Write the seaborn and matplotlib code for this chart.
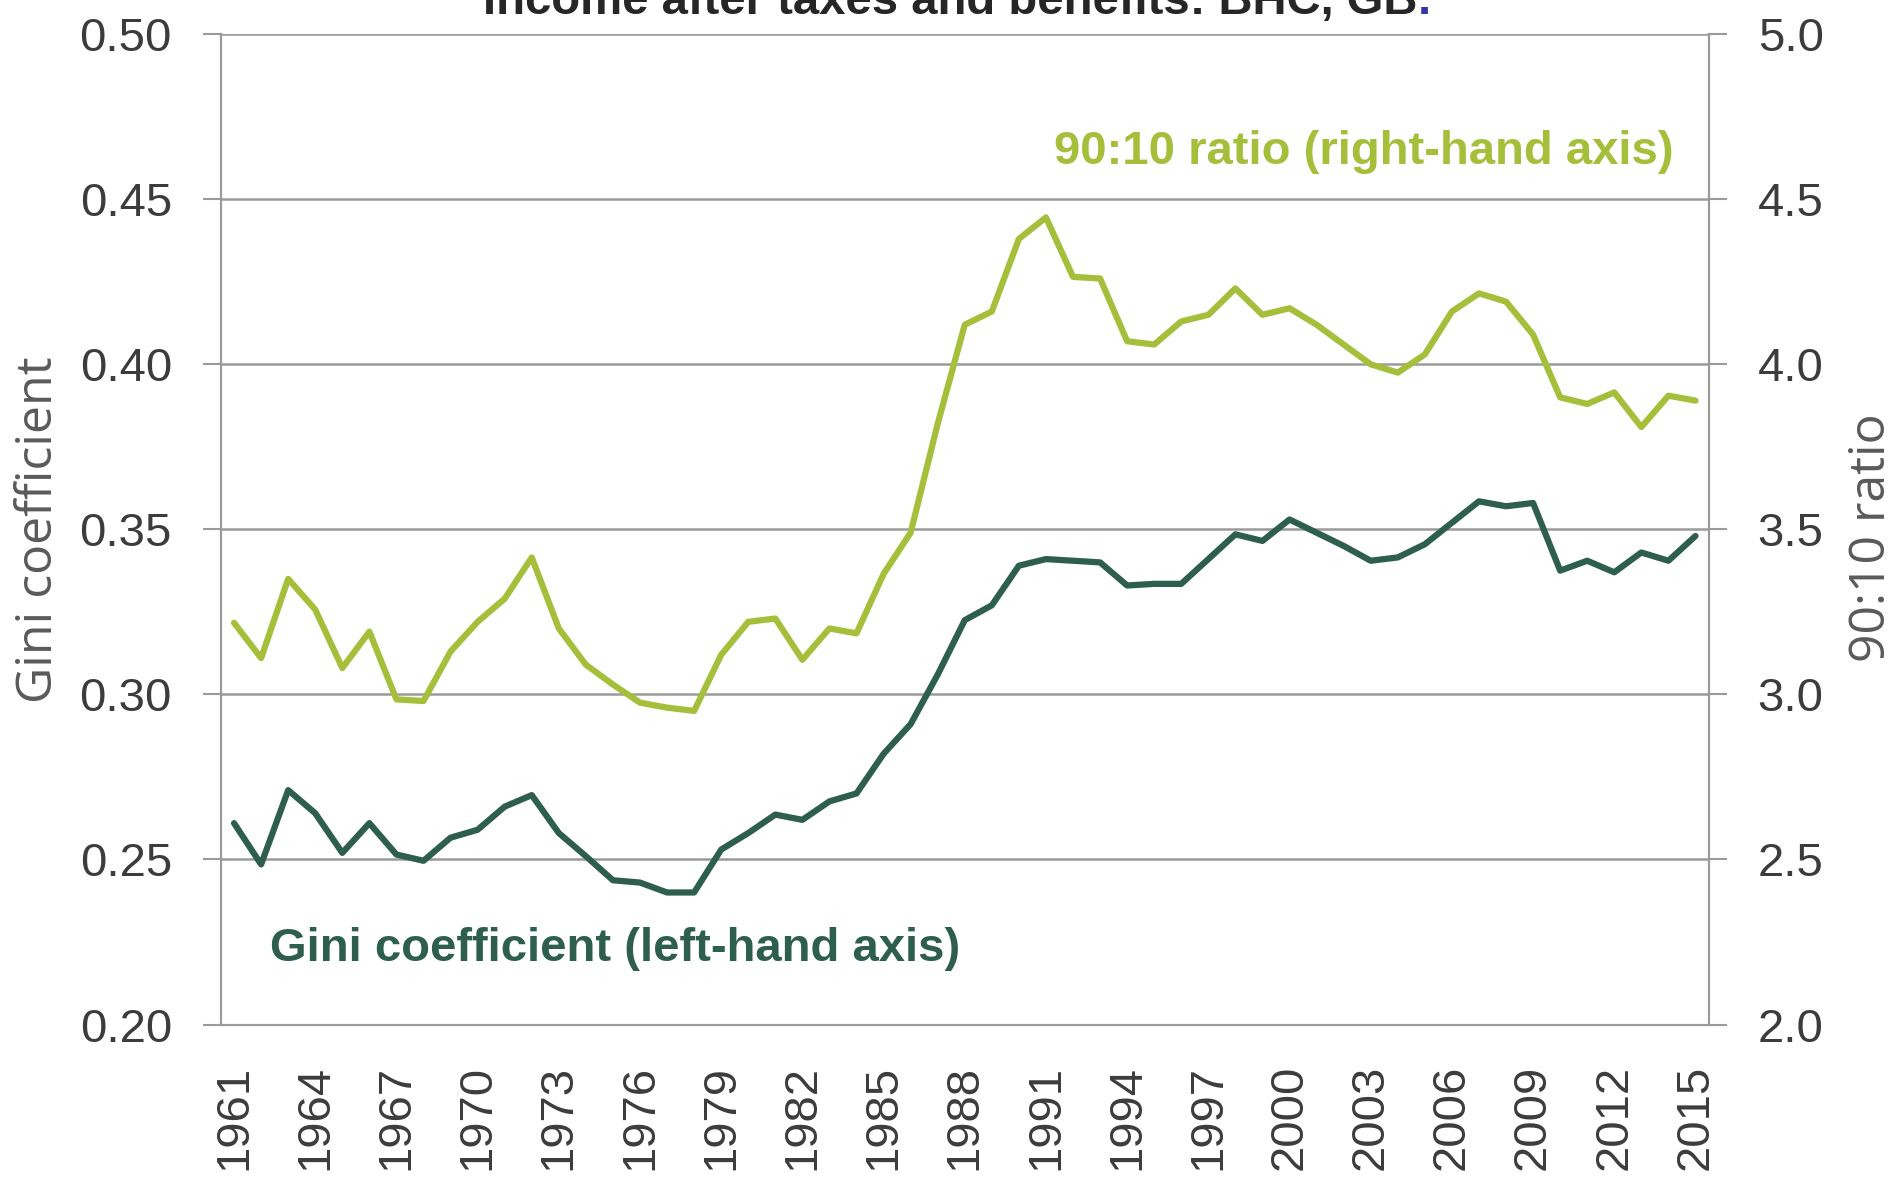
import matplotlib
matplotlib.use("Agg")
import matplotlib.pyplot as plt
from matplotlib.ticker import MultipleLocator, FixedLocator
import pandas as pd
import seaborn as sns

# data, 1961-2015
years = list(range(1961, 2016))
gini = [
    0.261, 0.2485, 0.271, 0.264, 0.252, 0.261, 0.2515, 0.2496, 0.2566, 0.259,
    0.266, 0.2695, 0.258, 0.251, 0.2437, 0.243, 0.240, 0.240, 0.253, 0.258,
    0.2636, 0.262, 0.2676, 0.270, 0.282, 0.291, 0.306, 0.3225, 0.327, 0.339,
    0.341, 0.3405, 0.340, 0.333, 0.3335, 0.3335, 0.341, 0.3485, 0.3465, 0.353,
    0.349, 0.345, 0.3405, 0.3415, 0.3455, 0.352, 0.3585, 0.357, 0.358, 0.3375,
    0.3405, 0.337, 0.343, 0.3405, 0.348,
]
ratio_90_10 = [
    3.217, 3.11, 3.35, 3.257, 3.08, 3.19, 2.985, 2.98, 3.13, 3.22,
    3.29, 3.415, 3.20, 3.09, 3.03, 2.975, 2.96, 2.95, 3.12, 3.22,
    3.23, 3.105, 3.20, 3.185, 3.365, 3.49, 3.82, 4.12, 4.16, 4.38,
    4.445, 4.265, 4.26, 4.07, 4.06, 4.13, 4.15, 4.23, 4.15, 4.17,
    4.12, 4.06, 4.00, 3.975, 4.03, 4.16, 4.215, 4.19, 4.09, 3.90,
    3.88, 3.915, 3.81, 3.905, 3.89,
]
label_years = years[::3]
title = "Income after taxes and benefits: BHC, GB"

dark_green = "#2e5e4e"
light_green = "#a6bf3b"
grid_grey = "#9a9a9a"
text_grey = "#3c3c3c"

df = pd.DataFrame({"year": years, "gini": gini, "ratio": ratio_90_10})

sns.set_style("white")
plt.rcParams["font.family"] = ["Liberation Sans", "DejaVu Sans"]

fig = plt.figure(figsize=(19.01, 11.81), dpi=100)
ax = fig.add_axes([0.116, 0.1325, 0.783, 0.8385])
ax2 = ax.twinx()

sns.lineplot(data=df, x="year", y="gini", ax=ax, color=dark_green, lw=4.5)
sns.lineplot(data=df, x="year", y="ratio", ax=ax2, color=light_green, lw=4.5)

ax.set_xlim(1960.5, 2015.5)
ax.set_ylim(0.20, 0.50)
ax2.set_ylim(2.0, 5.0)
ax.yaxis.set_major_locator(MultipleLocator(0.05))
ax2.yaxis.set_major_locator(MultipleLocator(0.5))
ax.yaxis.set_major_formatter(lambda v, p: f"{v:.2f}")
ax2.yaxis.set_major_formatter(lambda v, p: f"{v:.1f}")

ax.grid(axis="y", color=grid_grey, lw=1.8)
ax.set_axisbelow(True)

# x axis: year boundaries as small ticks, every third year labelled
ax.xaxis.set_major_locator(FixedLocator(label_years))
ax.xaxis.set_minor_locator(FixedLocator([y - 0.5 for y in years] + [2015.5]))
ax.tick_params(axis="x", which="major", length=0, pad=29, labelrotation=90,
               labelsize=34, labelcolor=text_grey)
ax.tick_params(axis="x", which="minor", length=13, width=1.3, color=grid_grey,
               direction="out")

ax.tick_params(axis="y", length=13, width=1.5, color=grid_grey, pad=22,
               labelsize=34, labelcolor=text_grey, left=True)
ax2.tick_params(axis="y", length=13, width=1.5, color=grid_grey, pad=22,
                labelsize=34, labelcolor=text_grey, right=True)

for a in (ax, ax2):
    a.set_xlabel("")
    for side in ("left", "right", "bottom"):
        a.spines[side].set_visible(True)
        a.spines[side].set_color(grid_grey)
        a.spines[side].set_linewidth(1.5)
    a.spines["top"].set_visible(False)

ax.set_ylabel("Gini coefficient", fontsize=36, color="#5a5a5a",
              family=["Open Sans", "DejaVu Sans"])
ax2.set_ylabel("90:10 ratio", fontsize=36, color="#5a5a5a",
               family=["Open Sans", "DejaVu Sans"])
ax.yaxis.set_label_coords(-0.105, 0.5)
ax2.yaxis.set_label_coords(1.093, 0.492)

ax.text(0.976, 0.881, "90:10 ratio (right-hand axis)", transform=ax.transAxes,
        ha="right", va="center", fontsize=34, fontweight="bold", color=light_green)
ax.text(0.033, 0.076, "Gini coefficient (left-hand axis)", transform=ax.transAxes,
        ha="left", va="center", fontsize=34, fontweight="bold", color=dark_green)

# title sits mostly above the top edge, as in the source image
t = fig.text(0.5, 0.988, title, ha="center", va="baseline", fontsize=34,
             fontweight="bold")
ax.annotate(".", xy=(1, 0), xycoords=t, va="bottom", ha="left", fontsize=34,
            fontweight="bold", color="#3333aa", annotation_clip=False)

fig.savefig("out.png", dpi=100)
